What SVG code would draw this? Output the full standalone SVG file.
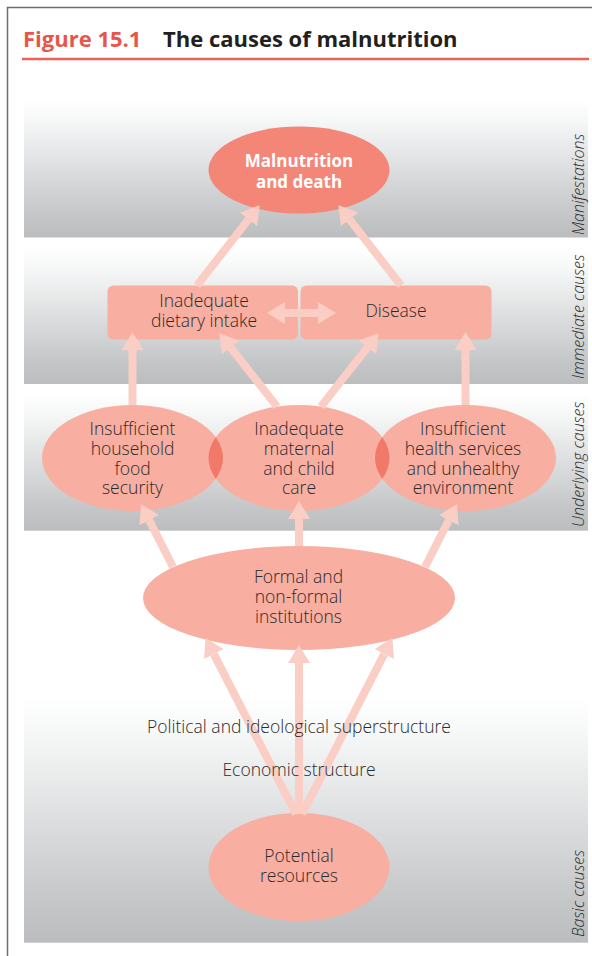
<svg xmlns="http://www.w3.org/2000/svg" width="592" height="956" viewBox="0 0 592 956">
<style>
  .frame { stroke: #6e6e6e; stroke-width: 1.5; fill: none; }
  .title { font-family: "Open Sans", "Liberation Sans", sans-serif; font-weight: bold; font-size: 22px; }
  .node { fill: #f8aea0; }
  .lens { fill: #f17969; }
  .lbl { font-family: "Open Sans", "Liberation Sans", sans-serif; font-size: 17.5px; font-weight: 300; fill: #2b2b2b; text-anchor: middle; }
  .wlbl { font-family: "Open Sans", "Liberation Sans", sans-serif; font-size: 17px; font-weight: bold; fill: #ffffff; text-anchor: middle; }
  .side { font-family: "Open Sans", "Liberation Sans", sans-serif; font-size: 16px; font-weight: 300; font-style: italic; fill: #2b2b2b; }
  .arrow { stroke: #facec4; stroke-width: 8; fill: none; marker-end: url(#head); }
</style>
<defs>
  <linearGradient id="band" x1="0" y1="0" x2="0" y2="1">
    <stop offset="0" stop-color="#ffffff"/>
    <stop offset="0.15" stop-color="#f6f7f7"/>
    <stop offset="0.85" stop-color="#c4c5c7"/>
    <stop offset="1" stop-color="#bcbdbf"/>
  </linearGradient>
  <marker id="head" markerUnits="userSpaceOnUse" viewBox="0 0 18 22" refX="0" refY="11" markerWidth="18" markerHeight="22" orient="auto-start-reverse">
    <path d="M0,0 L18,11 L0,22 Z" fill="#facec4"/>
  </marker>
  <clipPath id="clipLeft"><ellipse cx="132.5" cy="458" rx="90.5" ry="53"/></clipPath>
  <clipPath id="clipMid"><ellipse cx="299" cy="458" rx="90.5" ry="53"/></clipPath>
</defs>

<!-- frame and title -->
<g id="frame">
  <path class="frame" d="M7.5,956 L7.5,7.5 L592,7.5"/>
  <text class="title" x="23" y="46.5" fill="#e8564b">Figure 15.1</text>
  <text class="title" x="163" y="46.5" fill="#231f20">The causes of malnutrition</text>
  <line x1="22" y1="59" x2="589" y2="59" stroke="#ec6258" stroke-width="2.5"/>
</g>

<!-- bands -->
<g id="bands">
  <rect x="24" y="100" width="564" height="137.5" fill="url(#band)"/>
  <rect x="24" y="248" width="564" height="136" fill="url(#band)"/>
  <rect x="24" y="393" width="564" height="137.7" fill="url(#band)"/>
  <rect x="24" y="697" width="564" height="245.7" fill="url(#band)"/>
  <text class="side" transform="translate(584,235) rotate(-90)">Manifestations</text>
  <text class="side" transform="translate(584,379) rotate(-90)">Immediate causes</text>
  <text class="side" transform="translate(584,527) rotate(-90)">Underlying causes</text>
  <text class="side" transform="translate(584,937) rotate(-90)">Basic causes</text>
</g>

<!-- nodes -->
<g id="malnutrition">
  <ellipse cx="299" cy="170" rx="90.5" ry="43.5" fill="#f48678"/>
  <text class="wlbl" x="299" y="167">Malnutrition</text>
  <text class="wlbl" x="299" y="187.5">and death</text>
</g>
<g id="dietary-intake">
  <rect class="node" x="107.5" y="285.5" width="190.5" height="54" rx="6"/>
  <text class="lbl" x="204" y="306.7">Inadequate</text>
  <text class="lbl" x="204" y="327.3">dietary intake</text>
</g>
<g id="disease">
  <rect class="node" x="300.5" y="285.5" width="191" height="54" rx="6"/>
  <text class="lbl" x="396" y="317">Disease</text>
</g>
<g id="food-security">
  <ellipse class="node" cx="132.5" cy="458" rx="90.5" ry="53"/>
  <text class="lbl" x="132.5" y="435">Insufficient</text>
  <text class="lbl" x="132.5" y="455">household</text>
  <text class="lbl" x="132.5" y="474.5">food</text>
  <text class="lbl" x="132.5" y="494">security</text>
</g>
<g id="maternal-care">
  <ellipse class="node" cx="299" cy="458" rx="90.5" ry="53"/>
  <ellipse class="lens" cx="299" cy="458" rx="90.5" ry="53" clip-path="url(#clipLeft)"/>
  <text class="lbl" x="299" y="435">Inadequate</text>
  <text class="lbl" x="299" y="455">maternal</text>
  <text class="lbl" x="299" y="474.5">and child</text>
  <text class="lbl" x="299" y="494">care</text>
</g>
<g id="health-services">
  <ellipse class="node" cx="465.5" cy="458" rx="90.5" ry="53"/>
  <ellipse class="lens" cx="465.5" cy="458" rx="90.5" ry="53" clip-path="url(#clipMid)"/>
  <text class="lbl" x="463" y="435">Insufficient</text>
  <text class="lbl" x="463" y="455">health services</text>
  <text class="lbl" x="463" y="474.5">and unhealthy</text>
  <text class="lbl" x="463" y="494">environment</text>
</g>
<g id="institutions">
  <ellipse class="node" cx="299" cy="598" rx="156" ry="52"/>
  <text class="lbl" x="298.5" y="583.3">Formal and</text>
  <text class="lbl" x="298.5" y="603.3">non-formal</text>
  <text class="lbl" x="298.5" y="623.3">institutions</text>
</g>
<g id="resources">
  <ellipse class="node" cx="299" cy="867" rx="90.5" ry="54"/>
  <text class="lbl" x="299" y="861.7">Potential</text>
  <text class="lbl" x="299" y="882.3">resources</text>
</g>

<!-- connectors -->
<g id="connectors">
  <line class="arrow" x1="197" y1="285.5" x2="248.5" y2="219.4"/>
  <line class="arrow" x1="401" y1="285.5" x2="349.5" y2="219.4"/>
  <line class="arrow" x1="285" y1="313" x2="318" y2="313" style="marker-start:url(#head)"/>
  <line class="arrow" x1="132.5" y1="405" x2="132.5" y2="350"/>
  <line class="arrow" x1="277" y1="406.6" x2="230.5" y2="347.4"/>
  <line class="arrow" x1="321" y1="406.6" x2="367.5" y2="347.4"/>
  <line class="arrow" x1="465.5" y1="405" x2="465.5" y2="350"/>
  <line class="arrow" x1="173" y1="567" x2="149.2" y2="520.2"/>
  <line class="arrow" x1="299" y1="546" x2="299" y2="519"/>
  <line class="arrow" x1="425" y1="567" x2="448.8" y2="520.2"/>
  <line class="arrow" x1="296" y1="814" x2="213.8" y2="654.1"/>
  <line class="arrow" x1="299" y1="814" x2="299" y2="663"/>
  <line class="arrow" x1="302" y1="814" x2="384.2" y2="654.1"/>
</g>

<!-- free labels -->
<g id="structure-labels">
  <text class="lbl" x="299" y="733">Political and ideological superstructure</text>
  <text class="lbl" x="299" y="775.7">Economic structure</text>
</g>
</svg>
